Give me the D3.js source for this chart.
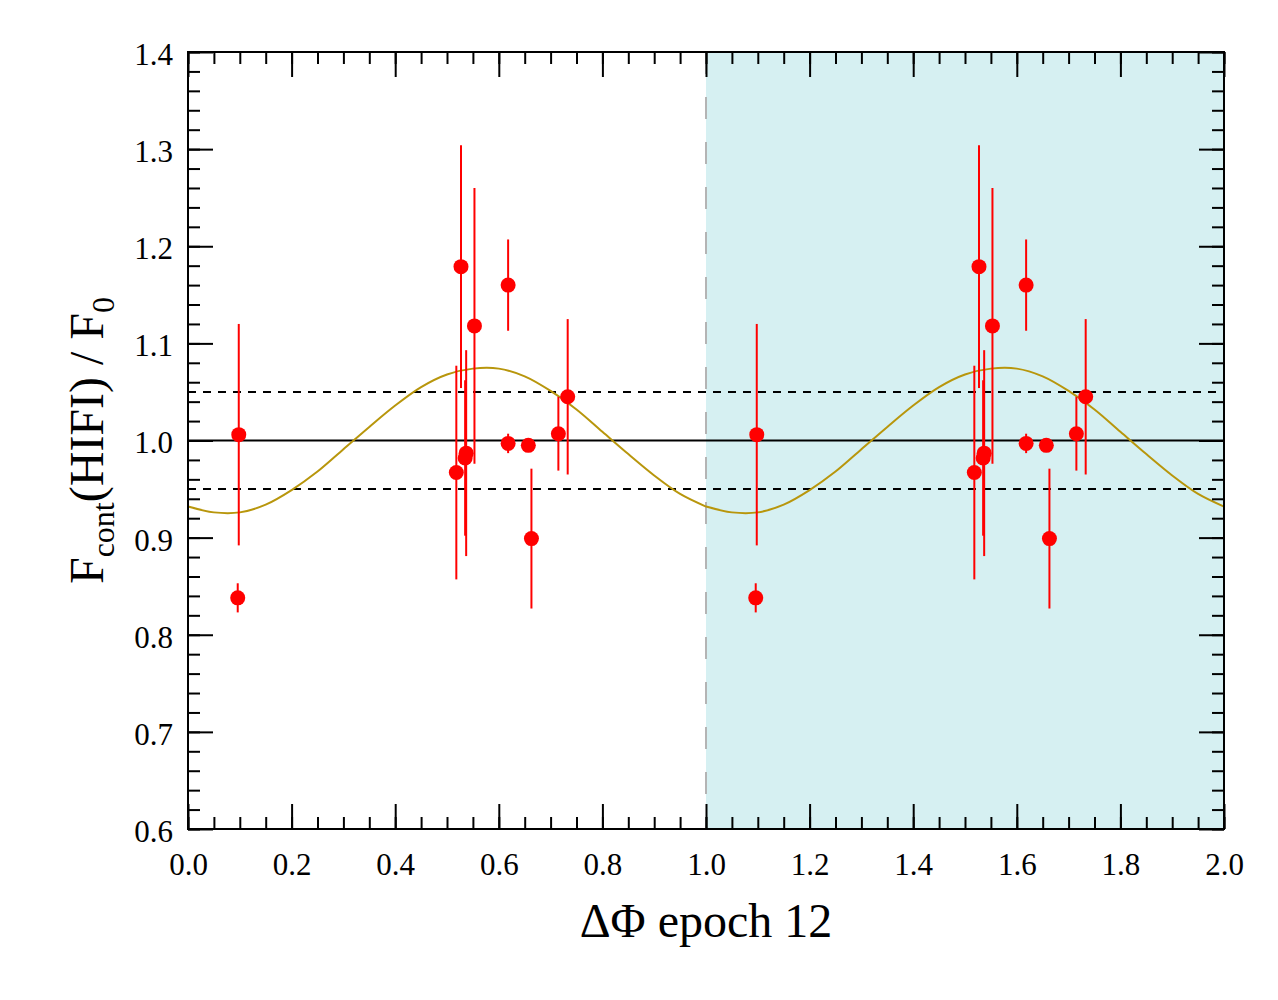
<!DOCTYPE html>
<html>
<head>
<meta charset="utf-8">
<script src="https://cdn.jsdelivr.net/npm/d3@7"></script>
<style>
  body { margin: 0; background: #fff; }
  svg text { font-family: "Liberation Serif", "Times New Roman", serif; fill: #000; }
</style>
</head>
<body>
<div id="chart"></div>
<script>
// phase-folded continuum points (one cycle, repeated in the shaded second cycle)
const phase = [0.098, 0.096, 0.518, 0.527, 0.535, 0.537, 0.553, 0.618, 0.618, 0.657, 0.663, 0.715, 0.733];
const flux  = [1.006, 0.838, 0.967, 1.179, 0.982, 0.987, 1.118, 1.160, 0.997, 0.995, 0.899, 1.007, 1.045];
const fluxErr = [0.114, 0.015, 0.110, 0.125, 0.080, 0.106, 0.142, 0.047, 0.010, 0.004, 0.072, 0.038, 0.080];

// fitted curve, one cycle at 0.05 steps
const fitPhase = d3.range(0, 1.0001, 0.05);
const fitFlux = [0.932, 0.926, 0.926, 0.934, 0.949, 0.968, 0.991, 1.014, 1.036, 1.055, 1.068,
                 1.074, 1.074, 1.066, 1.051, 1.032, 1.009, 0.986, 0.964, 0.945, 0.932];

const cycles = [0, 1];
const refLevel = 1.0;
const bandLevels = [0.95, 1.05];

const xMajor = d3.range(0, 2.0001, 0.2);
const xMinor = d3.range(0, 2.0001, 0.05);
const yMajor = d3.range(0.6, 1.4001, 0.1);
const yMinor = d3.range(0.6, 1.4001, 0.02);

const width = 1278, height = 1000;
const margin = { top: 52, right: 54, bottom: 171, left: 188 };
const innerWidth = width - margin.left - margin.right;
const innerHeight = height - margin.top - margin.bottom;

const x = d3.scaleLinear().domain([0, 2]).range([0, innerWidth]);
const y = d3.scaleLinear().domain([0.6, 1.4]).range([innerHeight, 0]);

const svg = d3.select("#chart").append("svg")
    .attr("width", width)
    .attr("height", height);

svg.append("rect").attr("width", width).attr("height", height).attr("fill", "#fff");

const g = svg.append("g")
    .attr("transform", `translate(${margin.left}, ${margin.top})`);

// shaded second cycle
g.append("rect")
    .attr("x", x(1)).attr("y", 0)
    .attr("width", x(2) - x(1))
    .attr("height", innerHeight)
    .attr("fill", "#d6f0f2");

g.append("line")
    .attr("x1", x(1)).attr("x2", x(1))
    .attr("y1", 0).attr("y2", innerHeight)
    .attr("stroke", "#b4b4b4")
    .attr("stroke-width", 2)
    .attr("stroke-dasharray", "22,23");

// reference lines
g.append("line")
    .attr("x1", 0).attr("x2", innerWidth)
    .attr("y1", y(refLevel)).attr("y2", y(refLevel))
    .attr("stroke", "#000").attr("stroke-width", 2);

g.selectAll(".band")
    .data(bandLevels)
    .join("line")
    .attr("class", "band")
    .attr("x1", 0).attr("x2", innerWidth)
    .attr("y1", d => y(d)).attr("y2", d => y(d))
    .attr("stroke", "#000").attr("stroke-width", 2)
    .attr("stroke-dasharray", "8,7");

// fitted curve
const fitLine = d3.line()
    .x(d => x(d.p))
    .y(d => y(d.f))
    .curve(d3.curveCatmullRom);

cycles.forEach(c => {
    const pts = fitPhase.map((p, i) => ({ p: p + c, f: fitFlux[i] }));
    g.append("path")
        .attr("d", fitLine(pts))
        .attr("fill", "none")
        .attr("stroke", "#b8960c")
        .attr("stroke-width", 2);
});

// points with error bars
const points = [];
cycles.forEach(c => {
    phase.forEach((p, i) => points.push({ p: p + c, f: flux[i], e: fluxErr[i] }));
});

g.selectAll(".err")
    .data(points)
    .join("line")
    .attr("class", "err")
    .attr("x1", d => x(d.p)).attr("x2", d => x(d.p))
    .attr("y1", d => y(d.f + d.e)).attr("y2", d => y(d.f - d.e))
    .attr("stroke", "#ff0000")
    .attr("stroke-width", 2);

g.selectAll(".pt")
    .data(points)
    .join("circle")
    .attr("class", "pt")
    .attr("cx", d => x(d.p))
    .attr("cy", d => y(d.f))
    .attr("r", 7.5)
    .attr("fill", "#ff0000");

// axes with inward ticks on all four sides
const fmt = d3.format(".1f");
const majorLen = 25, minorLen = 12;

const addAxis = (axis, transform, cls, labelled) => {
    const a = g.append("g").attr("class", cls).attr("transform", transform).call(axis);
    a.select(".domain").remove();
    a.selectAll(".tick line").attr("stroke", "#000").attr("stroke-width", 2);
    if (!labelled) a.selectAll(".tick text").remove();
    return a;
};

addAxis(d3.axisBottom(x).tickValues(xMinor).tickSize(-minorLen), `translate(0, ${innerHeight})`, "x-minor", false);
addAxis(d3.axisTop(x).tickValues(xMinor).tickSize(-minorLen), "translate(0, 0)", "x-minor-top", false);
addAxis(d3.axisLeft(y).tickValues(yMinor).tickSize(-minorLen), "translate(0, 0)", "y-minor", false);
addAxis(d3.axisRight(y).tickValues(yMinor).tickSize(-minorLen), `translate(${innerWidth}, 0)`, "y-minor-right", false);

addAxis(d3.axisBottom(x).tickValues(xMajor).tickSize(-majorLen).tickPadding(24).tickFormat(fmt),
    `translate(0, ${innerHeight})`, "x-axis", true);
addAxis(d3.axisTop(x).tickValues(xMajor).tickSize(-majorLen), "translate(0, 0)", "x-axis-top", false);
const yAxis = addAxis(d3.axisLeft(y).tickValues(yMajor).tickSize(-majorLen).tickPadding(15).tickFormat(fmt),
    "translate(0, 0)", "y-axis", true);
addAxis(d3.axisRight(y).tickValues(yMajor).tickSize(-majorLen), `translate(${innerWidth}, 0)`, "y-axis-right", false);

g.selectAll(".x-axis text, .y-axis text")
    .style("font-size", "31px");
yAxis.selectAll("text").attr("dy", "0.4em");

// frame
g.append("rect")
    .attr("width", innerWidth).attr("height", innerHeight)
    .attr("fill", "none").attr("stroke", "#000").attr("stroke-width", 2);

// axis titles
svg.append("text")
    .attr("x", margin.left + innerWidth / 2)
    .attr("y", 937)
    .attr("text-anchor", "middle")
    .style("font-size", "48px")
    .text("ΔΦ epoch 12");

const yTitle = svg.append("text")
    .attr("transform", `translate(103, ${margin.top + innerHeight / 2}) rotate(-90)`)
    .attr("text-anchor", "middle")
    .style("font-size", "48px");
yTitle.append("tspan").text("F");
yTitle.append("tspan").attr("dy", 11).style("font-size", "32px").text("cont");
yTitle.append("tspan").attr("dy", -11).text("(HIFI) / F");
yTitle.append("tspan").attr("dy", 11).style("font-size", "32px").text("0");
</script>
</body>
</html>
